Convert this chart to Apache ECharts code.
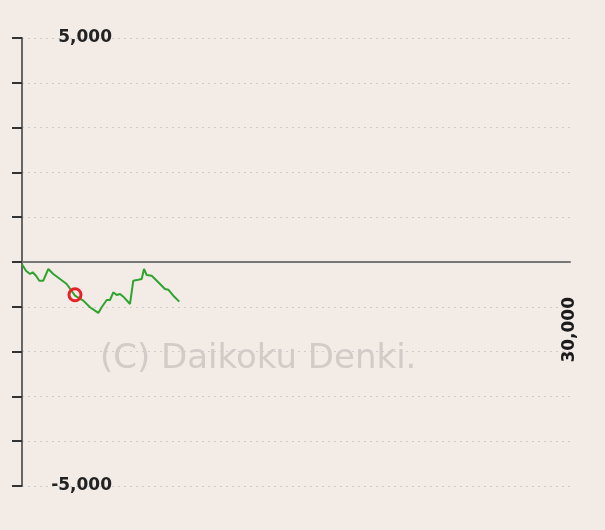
<!DOCTYPE html>
<html><head><meta charset="utf-8">
<script src="https://cdn.jsdelivr.net/npm/echarts@6/dist/echarts.min.js"></script>
<style>html,body{margin:0;padding:0;background:#f3ebe6;}#c{width:605px;height:530px;}</style>
</head><body><div id="c"></div>
<script>
const xValues = [0,219,438,586,766,947,1166,1440,1713,2080,2447,2901,3356,3722,4177,4363,4637,4817,4998,5184,5365,5584,5912,6093,6366,6553,6678,6826,7100,7461,7828,8009,8283,8611];
const yValues = [-50,-194,-268,-230,-306,-417,-417,-156,-268,-379,-491,-752,-863,-1010,-1137,-1010,-848,-848,-676,-736,-714,-788,-937,-417,-395,-379,-156,-290,-306,-453,-602,-618,-752,-885];
const markerPoint = [2901, -730];
const yLabels = {'5000':'5,000','-5000':'-5,000'};
const xMaxLabel = [30000, 0, '30,000'];

const chart = echarts.init(document.getElementById('c'));
chart.setOption({
  backgroundColor:'#f3ebe6',
  animation:false,
  grid:{left:22,right:35,top:38,bottom:44,containLabel:false,outerBoundsMode:'none'},
  xAxis:{type:'value',min:0,max:30000,interval:30000,
    axisLine:{onZero:true,lineStyle:{color:'#777',width:2}},
    axisTick:{show:false},splitLine:{show:false},axisLabel:{show:false}
  },
  yAxis:{type:'value',min:-5000,max:5000,interval:1000,
    axisLine:{show:true,onZero:false,lineStyle:{color:'#666',width:2}},
    axisTick:{show:true,inside:false,length:10,lineStyle:{color:'#333',width:2}},
    splitLine:{show:true,lineStyle:{color:'#ccc',type:[2,4],width:1}},
    axisLabel:{inside:true,align:'right',margin:90,color:'#222',fontSize:17,fontWeight:'bold',fontFamily:'DejaVu Sans',
      formatter:v=>yLabels[String(v)]||''}
  },
  graphic:[{type:'text',left:100,top:342,silent:true,z:0,
    style:{text:'(C) Daikoku Denki.',font:'34px DejaVu Sans',fill:'#d3cbc7'}}],
  series:[
    {type:'line',data:xValues.map((x,i)=>[x,yValues[i]]),showSymbol:false,
     lineStyle:{color:'#2ea32e',width:2},z:3},
    {type:'scatter',data:[markerPoint],symbol:'circle',symbolSize:12,
     itemStyle:{color:'rgba(0,0,0,0)',borderColor:'#e8202a',borderWidth:3,opacity:1},z:4},
    {type:'scatter',data:[xMaxLabel],symbolSize:2,clip:false,silent:true,
     itemStyle:{color:'rgba(0,0,0,0)',opacity:1},
     label:{show:true,position:'inside',rotate:90,align:'right',verticalAlign:'middle',
       padding:[0,35,6,0],formatter:p=>p.data[2],textBorderWidth:0,
       color:'#1a1a1a',fontSize:17,fontWeight:'bold',fontFamily:'DejaVu Sans'},
     z:2}
  ]
});
</script></body></html>
